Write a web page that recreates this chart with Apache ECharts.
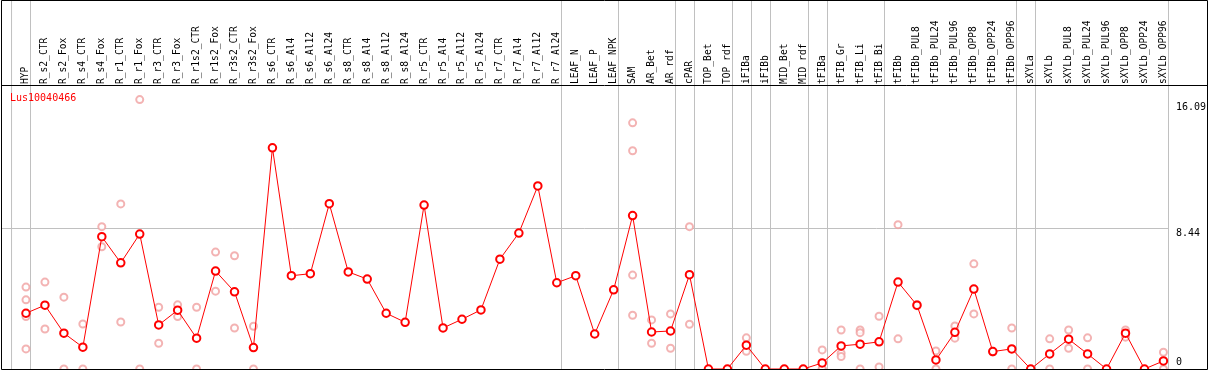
<!DOCTYPE html>
<html>
<head>
<meta charset="utf-8">
<script src="https://cdn.jsdelivr.net/npm/echarts@6/dist/echarts.min.js"></script>
<style>
html,body{margin:0;padding:0;background:#fff;}
#chart{width:1209px;height:370px;}
</style>
</head>
<body>
<div id="chart"></div>
<script>
const chartTitle = 'Lus10040466';

const categories = ['HYP','R_s2_CTR','R_s2_Fox','R_s4_CTR','R_s4_Fox','R_r1_CTR','R_r1_Fox','R_r3_CTR','R_r3_Fox',
  'R_r1s2_CTR','R_r1s2_Fox','R_r3s2_CTR','R_r3s2_Fox','R_s6_CTR','R_s6_Al4','R_s6_Al12','R_s6_Al24',
  'R_s8_CTR','R_s8_Al4','R_s8_Al12','R_s8_Al24','R_r5_CTR','R_r5_Al4','R_r5_Al12','R_r5_Al24',
  'R_r7_CTR','R_r7_Al4','R_r7_Al12','R_r7_Al24','LEAF_N','LEAF_P','LEAF_NPK','SAM','AR_Bet','AR_rdf',
  'cPAR','TOP_Bet','TOP_rdf','iFIBa','iFIBb','MID_Bet','MID_rdf','tFIBa','tFIB_Gr','tFIB_Li','tFIB_Bi',
  'tFIBb','tFIBb_PUL8','tFIBb_PUL24','tFIBb_PUL96','tFIBb_OPP8','tFIBb_OPP24','tFIBb_OPP96',
  'sXYLa','sXYLb','sXYLb_PUL8','sXYLb_PUL24','sXYLb_PUL96','sXYLb_OPP8','sXYLb_OPP24','sXYLb_OPP96'];

const meanValues = [3.33,3.81,2.14,1.30,7.90,6.34,8.06,2.63,3.51,
  1.84,5.85,4.61,1.28,13.21,5.57,5.69,9.87,
  5.80,5.37,3.33,2.79,9.79,2.45,2.97,3.53,
  6.56,8.12,10.93,5.15,5.57,2.09,4.73,9.16,2.21,2.27,
  5.63,0,0,1.42,0,0,0,0.36,1.38,1.48,1.62,
  5.19,3.81,0.54,2.19,4.77,1.04,1.20,
  0,0.90,1.78,0.90,0,2.14,0,0.48];

const replicateValues = [[4.89,4.13,3.13,1.20],[5.19,2.39],[4.29,0],[2.69,0],[8.50,7.30],[9.86,2.81],[16.09,0],[3.69,1.54],[3.83,3.13],
  [3.69,0],[6.98,4.65],[6.76,2.45],[2.55,0],[],[],[],[],
  [],[],[],[],[],[],[],[],
  [],[],[],[],[],[],[],[14.70,13.03,5.61,3.21],[2.93,1.54],[3.29,1.24],
  [8.50,2.67],[],[],[1.86,1.06],[],[],[],[1.14,0,0],[2.33,0.94,0.74],[2.33,2.17,0],[3.15,0.12],
  [8.62,1.80],[3.85,3.77],[1.08,0],[2.57,1.84],[6.28,3.29],[1.06,1.02],[2.45,0],
  [],[1.80,0],[2.33,1.24],[1.86,0],[],[2.33,1.90],[],[1.00,0]];

const yTickLabels = [0, 8.44, 16.09];
const yMax = 16.9;
// a separator line is drawn after each of these categories (plus one before the first)
const groupEnds = ['HYP','R_r7_Al24','LEAF_NPK','AR_rdf','cPAR','TOP_rdf','iFIBa','iFIBb','MID_rdf',
  'tFIBa','tFIB_Bi','tFIBb_OPP96','sXYLa','sXYLb_OPP96'];

const scatterData = [];
replicateValues.forEach((arr, i) => arr.forEach(v => scatterData.push([i, v])));

const mono = 'DejaVu Sans Mono';
const chart = echarts.init(document.getElementById('chart'), null, {renderer: 'canvas'});

chart.setOption({
  animation: false,
  backgroundColor: '#fff',
  title: {
    text: chartTitle, left: 10, top: 93, padding: 0,
    textStyle: {color: '#ff0000', fontFamily: mono, fontSize: 10, fontWeight: 'normal'}
  },
  grid: {left: 16.5, top: 86, width: 61 * 19, height: 283, containLabel: false},
  xAxis: {
    type: 'category', position: 'top', data: categories, boundaryGap: true,
    axisLine: {show: false}, axisTick: {show: false}, splitLine: {show: false},
    axisLabel: {interval: 0, rotate: 90, margin: 2, fontFamily: mono, fontSize: 9.6, color: '#000'}
  },
  yAxis: {
    type: 'value', position: 'right', min: 0, max: yMax,
    axisLine: {show: false}, axisTick: {show: false}, splitLine: {show: false},
    axisLabel: {
      customValues: yTickLabels, margin: 3, fontFamily: mono, fontSize: 10, color: '#000',
      formatter: v => v === 0 ? '{b|0}' : (v > 10 ? '{c|' + v + '}' : '{a|' + v + '}'),
      rich: {
        a: {fontFamily: mono, fontSize: 10, color: '#000', padding: [12, 0, 0, 0]},
        c: {fontFamily: mono, fontSize: 10, color: '#000', padding: [15, 0, 0, 0]},
        b: {fontFamily: mono, fontSize: 10, color: '#000', padding: [0, 0, 14, 0]}
      }
    }
  },
  series: [
    {
      type: 'custom', silent: true, z: 1, clip: false, data: [[0, 0]],
      renderItem: function (params, api) {
        const cs = params.coordSys;
        const band = api.size([1, 0])[0];
        const bottom = cs.y + cs.height;
        const sepX = i => Math.round(api.coord([i, 0])[0] + band * 4.5 / 19) + 0.5;
        const xs = [sepX(0) - band];
        groupEnds.forEach(n => xs.push(sepX(categories.indexOf(n))));
        const children = xs.map(x => ({
          type: 'line', shape: {x1: x, y1: 0, x2: x, y2: bottom},
          style: {stroke: '#c0c0c0', lineWidth: 1}
        }));
        const gy = Math.round(api.coord([0, yTickLabels[1]])[1]) + 0.5;
        children.push({
          type: 'line', shape: {x1: 1, y1: gy, x2: xs[xs.length - 1], y2: gy},
          style: {stroke: '#c0c0c0', lineWidth: 1}
        });
        return {type: 'group', children: children};
      }
    },
    {
      type: 'scatter', data: scatterData, z: 3, symbol: 'emptyCircle', symbolSize: 7,
      itemStyle: {color: '#f0a0a0', borderColor: '#f0a0a0', borderWidth: 1.1}, silent: true
    },
    {
      type: 'line', data: meanValues, z: 4, symbol: 'emptyCircle', symbolSize: 7.5, showAllSymbol: true,
      lineStyle: {color: '#ff0000', width: 1},
      itemStyle: {color: '#ff0000', borderColor: '#ff0000', borderWidth: 1.4}, silent: true
    }
  ],
  graphic: [
    {type: 'rect', z: 100, silent: true, shape: {x: 1.5, y: 0.5, width: 1206, height: 369},
      style: {fill: null, stroke: '#000', lineWidth: 1}},
    {type: 'line', z: 100, silent: true, shape: {x1: 1, y1: 85.5, x2: 1208, y2: 85.5},
      style: {stroke: '#000', lineWidth: 1}}
  ]
});
</script>
</body>
</html>
